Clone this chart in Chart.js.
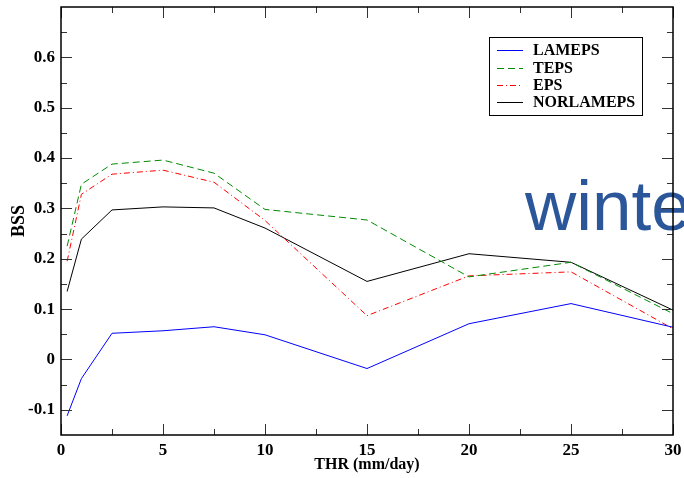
<!DOCTYPE html>
<html>
<head>
<meta charset="utf-8">
<script src="https://cdn.jsdelivr.net/npm/chart.js@4/dist/chart.umd.min.js"></script>
<style>
  html, body { margin: 0; padding: 0; background: #fff; }
  #wrap { width: 684px; height: 478px; }
</style>
</head>
<body>
<div id="wrap"><canvas id="c" width="684" height="478"></canvas></div>
<script>
// ---- data ----
const thresholds = [0.3, 1, 2.5, 5, 7.5, 10, 15, 20, 25, 30];
const lameps    = [-0.112, -0.038, 0.052, 0.057, 0.065, 0.049, -0.018, 0.071, 0.111, 0.064];
const teps      = [0.225, 0.348, 0.388, 0.396, 0.370, 0.298, 0.277, 0.164, 0.193, 0.091];
const eps       = [0.195, 0.328, 0.368, 0.376, 0.352, 0.276, 0.087, 0.166, 0.174, 0.061];
const norlameps = [0.135, 0.239, 0.297, 0.303, 0.301, 0.261, 0.155, 0.210, 0.193, 0.098];

const seriesNames = ['LAMEPS', 'TEPS', 'EPS', 'NORLAMEPS'];
const xTickValues = [0, 5, 10, 15, 20, 25, 30];
const xTickLabels = ['0', '5', '10', '15', '20', '25', '30'];
const yTickValues = [-0.1, 0, 0.1, 0.2, 0.3, 0.4, 0.5, 0.6];
const yTickLabels = ['-0.1', '0', '0.1', '0.2', '0.3', '0.4', '0.5', '0.6'];
const xMinorValues = [2.5, 7.5, 12.5, 17.5, 22.5, 27.5];
const yMinorValues = [-0.05, 0.05, 0.15, 0.25, 0.35, 0.45, 0.55, 0.65];
const xTitle = 'THR (mm/day)';
const yTitle = 'BSS';
const overlayText = 'winter';

const pts = arr => thresholds.map((t, i) => ({ x: t, y: arr[i] }));

const SERIF = '"Liberation Serif", "Times New Roman", serif';

const styles = [
  { color: '#0000ff', dash: [] },
  { color: '#008a00', dash: [7, 4] },
  { color: '#ff0000', dash: [6, 3, 1, 3] },
  { color: '#000000', dash: [] }
];

const seriesData = [lameps, teps, eps, norlameps];

const framePlugin = {
  id: 'frame',
  beforeDatasetsDraw(chart) {
    const ctx = chart.ctx;
    ctx.save();
    ctx.font = '71px "Liberation Sans", Arial, sans-serif';
    ctx.fillStyle = '#2B579A';
    ctx.textBaseline = 'alphabetic';
    ctx.textAlign = 'left';
    ctx.fillText(overlayText, 525, 230);
    ctx.restore();
  },
  afterDraw(chart) {
    const ctx = chart.ctx;
    const a = chart.chartArea;
    const xs = chart.scales.x, ys = chart.scales.y;
    ctx.save();
    // ticks (inward, mirrored)
    ctx.strokeStyle = '#333';
    ctx.lineWidth = 1;
    const MAJ = 11, MIN = 6;
    const vt = (v, len) => {
      const px = Math.round(xs.getPixelForValue(v)) + 0.5;
      ctx.beginPath();
      ctx.moveTo(px, a.bottom); ctx.lineTo(px, a.bottom - len);
      ctx.moveTo(px, a.top); ctx.lineTo(px, a.top + len);
      ctx.stroke();
    };
    const ht = (v, len) => {
      const py = Math.round(ys.getPixelForValue(v)) + 0.5;
      ctx.beginPath();
      ctx.moveTo(a.left, py); ctx.lineTo(a.left + len, py);
      ctx.moveTo(a.right, py); ctx.lineTo(a.right - len, py);
      ctx.stroke();
    };
    xTickValues.forEach(v => vt(v, MAJ));
    xMinorValues.forEach(v => vt(v, MIN));
    yTickValues.forEach(v => ht(v, MAJ));
    yMinorValues.forEach(v => ht(v, MIN));
    // frame
    ctx.strokeStyle = '#000';
    ctx.lineWidth = 1.5;
    ctx.strokeRect(a.left, a.top, a.right - a.left, a.bottom - a.top);

    // axis titles
    ctx.fillStyle = '#000';
    ctx.font = 'bold 16px ' + SERIF;
    ctx.textAlign = 'center';
    ctx.textBaseline = 'middle';
    ctx.fillText(xTitle, (a.left + a.right) / 2, 465);
    ctx.save();
    ctx.translate(19, (a.top + a.bottom) / 2);
    ctx.rotate(-Math.PI / 2);
    ctx.font = 'bold 18px ' + SERIF;
    ctx.fillText(yTitle, 0, 0);
    ctx.restore();

    // legend
    ctx.lineWidth = 1;
    ctx.strokeStyle = '#000';
    ctx.strokeRect(489.5, 37.5, 153, 78);
    const rows = [50, 67.5, 84.5, 102];
    ctx.font = 'bold 16px ' + SERIF;
    ctx.textAlign = 'left';
    ctx.textBaseline = 'middle';
    chart.data.datasets.forEach((ds, i) => {
      const y = Math.round(rows[i]) + 0.5;
      ctx.strokeStyle = styles[i].color;
      ctx.setLineDash(styles[i].dash);
      ctx.beginPath();
      ctx.moveTo(497, y); ctx.lineTo(523, y);
      ctx.stroke();
      ctx.setLineDash([]);
      ctx.fillStyle = '#000';
      ctx.fillText(ds.label, 533, rows[i] + 1);
    });
    ctx.restore();
  }
};

const zeroPad = s => { s.paddingLeft = 0; s.paddingRight = 0; s.paddingTop = 0; s.paddingBottom = 0; };

new Chart(document.getElementById('c'), {
  type: 'line',
  data: {
    datasets: seriesNames.map((name, i) => ({
      label: name,
      data: pts(seriesData[i]),
      borderColor: styles[i].color,
      backgroundColor: styles[i].color,
      borderDash: styles[i].dash,
      borderWidth: 1,
      pointRadius: 0,
      tension: 0,
      fill: false
    }))
  },
  options: {
    responsive: false,
    animation: false,
    layout: { padding: { left: 0, top: 7, right: 11, bottom: 0 } },
    plugins: { legend: { display: false }, tooltip: { enabled: false } },
    scales: {
      x: {
        type: 'linear', min: 0, max: 30,
        afterBuildTicks: s => { s.ticks = xTickValues.map(v => ({ value: v })); },
        afterFit: s => { s.height = 43; zeroPad(s); },
        grid: { display: false, drawTicks: false },
        border: { display: false },
        ticks: {
          padding: 5,
          color: '#000',
          font: { family: SERIF, size: 17, weight: 'bold' },
          maxRotation: 0,
          callback: (v) => { const i = xTickValues.indexOf(v); return i >= 0 ? xTickLabels[i] : ''; }
        }
      },
      y: {
        type: 'linear', min: -0.15, max: 0.7,
        afterBuildTicks: s => { s.ticks = yTickValues.map(v => ({ value: v })); },
        afterFit: s => { s.width = 61; zeroPad(s); },
        grid: { display: false, drawTicks: false },
        border: { display: false },
        ticks: {
          padding: 6,
          color: '#000',
          font: { family: SERIF, size: 17, weight: 'bold' },
          callback: (v) => {
            const i = yTickValues.findIndex(t => Math.abs(t - v) < 1e-9);
            return i >= 0 ? yTickLabels[i] : '';
          }
        }
      }
    }
  },
  plugins: [framePlugin]
});
</script>
</body>
</html>
